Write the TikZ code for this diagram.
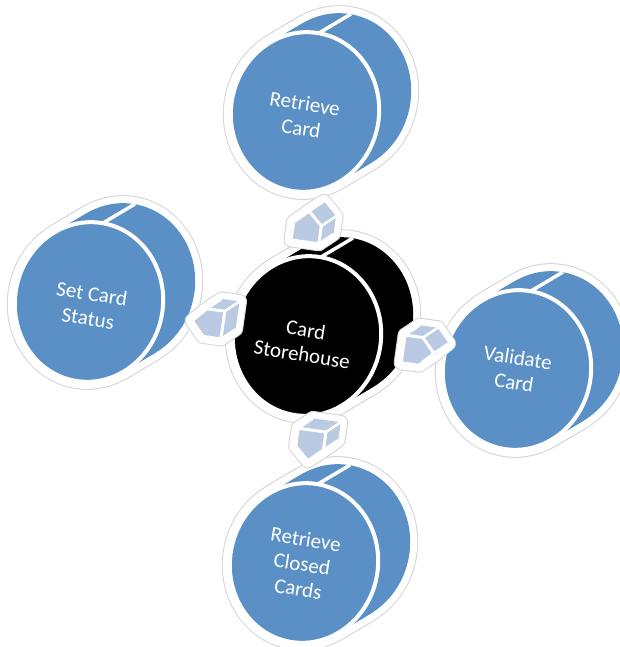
\documentclass[tikz,border=0pt]{standalone}
\usepackage{fontspec}
\setmainfont{Carlito}
\usetikzlibrary{calc}
\definecolor{cylblue}{RGB}{90,144,198}
\definecolor{arrblue}{RGB}{186,202,227}
\definecolor{haloc}{RGB}{212,212,212}
\tikzset{
  lbl/.style={text=white, font=\fontsize{21}{25}\selectfont, align=center, rotate=-9, inner sep=0pt},
}
\newcommand\cylbody[3]{% #1 x, #2 y, #3 colour
  \begin{scope}[shift={(#1,#2)}]
    \foreach \i in {0,...,10}
      \draw[haloc, line width=16pt, shift={(3.2*\i,-1.9*\i)}, rotate=-10] (0,0) ellipse[x radius=74, y radius=80];
    \foreach \i in {0,...,10}
      \draw[white, line width=14pt, shift={(3.2*\i,-1.9*\i)}, rotate=-10] (0,0) ellipse[x radius=74, y radius=80];
    \foreach \i in {0,...,10}
      \fill[#3, shift={(3.2*\i,-1.9*\i)}, rotate=-10] (0,0) ellipse[x radius=74, y radius=80];
    \draw[white, line width=3.5pt] (14,-79) -- (46,-98);
    \filldraw[fill=#3, draw=white, line width=4pt, rotate=-10] (0,0) ellipse[x radius=74, y radius=80];
  \end{scope}
}
\newcommand\pent{(0,-16) -- (14,-3) -- (14,15) -- (-14,15) -- (-14,-3) -- cycle}
\newcommand\arrbody[3]{% #1 x, #2 y, #3 rotation
  \begin{scope}[shift={(#1,#2)}]
    \foreach \i in {0,...,7}
      \draw[haloc, line width=15pt, line join=round, shift={(2.1*\i,-1.4*\i)}, rotate=#3] \pent;
    \foreach \i in {0,...,7}
      \draw[white, line width=13pt, line join=round, shift={(2.1*\i,-1.4*\i)}, rotate=#3] \pent;
    \foreach \i in {0,...,7}
      \fill[arrblue, shift={(2.1*\i,-1.4*\i)}, rotate=#3] \pent;
    \foreach \vx/\vy in {0/-16, 14/-3, 14/15, -14/15, -14/-3}
      \draw[white, line width=2.5pt] ([rotate=#3]\vx,\vy) -- ++(14.7,-9.8);
    \filldraw[fill=arrblue, draw=white, line width=3pt, line join=round, rotate=#3] \pent;
  \end{scope}
}
\begin{document}
\begin{tikzpicture}[x=1pt, y=-1pt]
\useasboundingbox (0,0) rectangle (620,647);
\fill[white] (0,0) rectangle (620,647);
% outer cylinders
\coordinate (rc) at (305,112);
\coordinate (scs) at (89,302);
\coordinate (vc) at (517,370);
\coordinate (rcc) at (304,563);
\coordinate (cs) at (307,336);
\cylbody{305}{112}{cylblue}
\cylbody{89}{302}{cylblue}
\cylbody{517}{370}{cylblue}
\cylbody{304}{563}{cylblue}
\cylbody{307}{336}{black}
% arrows (connectors from the hub to each step)
\coordinate (aTop) at (307,227);
\coordinate (aLeft) at (208,323);
\coordinate (aRight) at (418,351);
\coordinate (aBottom) at (310,445);
\arrbody{307}{227}{-8}
\arrbody{208}{323}{82}
\arrbody{418}{351}{-98}
\arrbody{310}{445}{172}
% labels
\node[lbl] (rcT) at (303,116) {Retrieve\\Card};
\node[lbl] (scsT) at (90,306) {Set Card\\Status};
\node[lbl] (csT) at (304,342) {Card\\Storehouse};
\node[lbl] (vcT) at (516,370) {Validate\\Card};
\node[lbl] (rccT) at (302,564) {Retrieve\\Closed\\Cards};
\end{tikzpicture}
\end{document}
